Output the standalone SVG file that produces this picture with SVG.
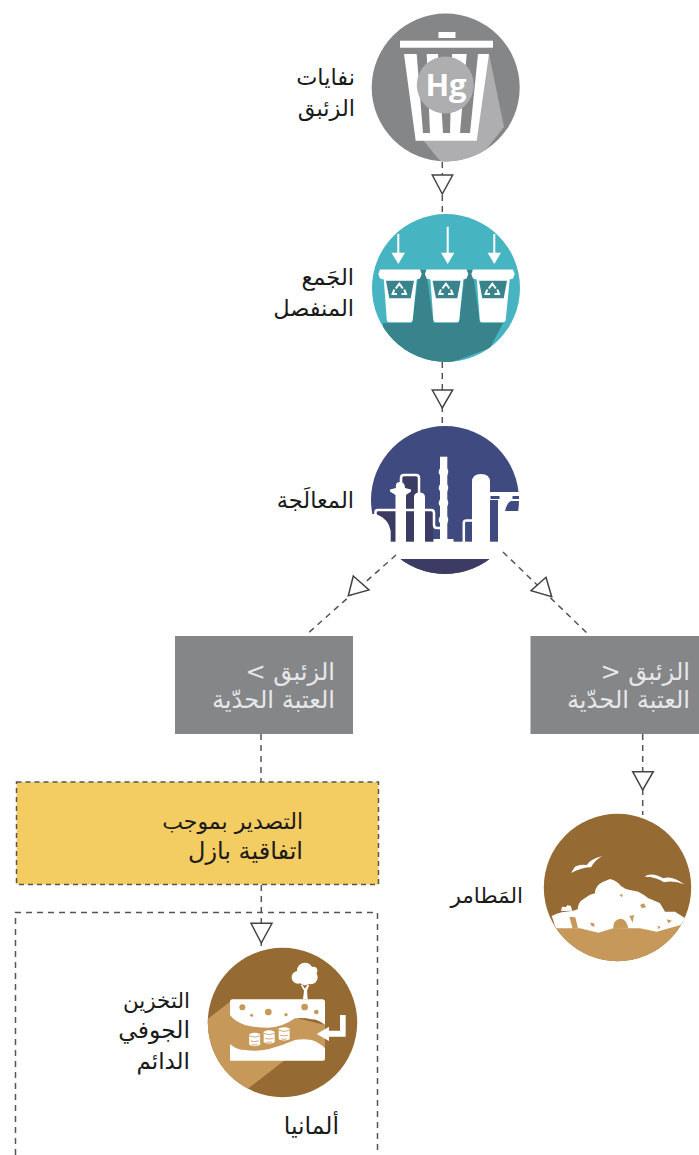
<svg xmlns="http://www.w3.org/2000/svg" xmlns:xlink="http://www.w3.org/1999/xlink" width="699" height="1155" viewBox="0 0 699 1155">
<style>
text{font-family:"DejaVu Sans","Noto Sans",sans-serif;font-size:22.500px;fill:#1a1a1a;direction:rtl;text-anchor:start}
.lt{fill:#e6e7e8;font-size:24.200px}
.dash{fill:none;stroke:#555;stroke-width:1.500;stroke-dasharray:6 5}
.tri{fill:#fff;stroke:#444;stroke-width:1.500}
.w{fill:#fff}
.ws{fill:none;stroke:#fff;stroke-width:2.500}
</style>
<defs>
<clipPath id="c1"><circle cx="445.700" cy="87.500" r="74"/></clipPath>
<clipPath id="c2"><circle cx="446" cy="288" r="74"/></clipPath>
<clipPath id="c3"><circle cx="445" cy="500" r="74"/></clipPath>
<clipPath id="c4"><circle cx="617.500" cy="887.500" r="73.700"/></clipPath>
<clipPath id="c5"><circle cx="282.500" cy="1022.500" r="74.700"/></clipPath>
<g id="bin">
<path class="w" d="M380 269.500H420L421.700 274L420 278.500L416.700 279.500L412.700 320Q412.500 322.300 410 322.300H389.500Q387 322.300 386.800 320L383.800 279.500L380 278.500L378.300 274Z"/>
<path fill="#38838c" d="M386 280.700H414L410.700 298.300H389.300Z"/>
<path fill="none" stroke="#fff" stroke-width="2" d="M395.800 288.500L399.300 283.700L402.800 288.500M404.300 289.500L406 294H401.500M397 294H392.600L394.300 289.500"/>
</g>
<g id="can">
<path class="w" d="M-16.500 -16Q0 -24 16.500 -16V16Q0 24 -16.500 16Z"/>
<path fill="none" stroke="#c69859" stroke-width="2.500" d="M-16.500 -11Q0 -3 16.500 -11M-12 4Q0 9 12 4M-8 15Q0 18 8 15"/>
</g>
</defs>

<g id="waste">
<circle cx="445.700" cy="87.500" r="74" fill="#858688"/>
<g clip-path="url(#c1)">
<polygon fill="#aeadaf" points="423,140 441,162 470,170 504,127 489,54"/>
</g>
<rect class="w" x="438.500" y="32" width="17" height="6"/>
<rect class="w" x="400" y="40.700" width="93" height="7"/>
<polygon class="w" points="404,54 489,54 476.700,140.700 415.700,140.700"/>
<g fill="#858688">
<polygon points="416.700,54 426.700,54 430,133 423,133"/>
<polygon points="438,54 452,54 450,133 443,133"/>
<polygon points="466.700,54 478,54 470,133 460,133"/>
</g>
<circle cx="445.300" cy="85" r="28.500" fill="#aeadaf"/>
<text x="446" y="96" style="font-family:'Open Sans','Liberation Sans',sans-serif;font-size:31px;font-weight:700;fill:#fff;direction:ltr;text-anchor:middle">Hg</text>
<text x="355" y="85">نفايات</text>
<text x="355" y="116">الزئبق</text>
</g>

<g id="collect">
<circle cx="446" cy="288" r="74" fill="#47b4c1"/>
<g clip-path="url(#c2)">
<path fill="#38838c" d="M383 323H503L490 348L450 363L380 370ZM419 270H426L433.500 323H412ZM465.600 270H472.600L480 323H458.600Z"/>
</g>
<use xlink:href="#bin"/>
<use xlink:href="#bin" x="46.600"/>
<use xlink:href="#bin" x="93"/>
<path class="w" d="M397.300 234H399.300V252.700H405L398.300 264L391.500 252.700H397.300ZM446.700 226.700H448.700V252.700H454.400L447.700 264L441 252.700H446.700ZM493.300 234H495.300V252.700H501L494.300 264L487.600 252.700H493.300Z"/>
<text x="354" y="285">الجَمع</text>
<text x="354" y="316">المنفصل</text>
</g>

<g id="treatment">
<circle cx="445" cy="500" r="74" fill="#3f4b80"/>
<g clip-path="url(#c3)">
<rect y="558" x="370" width="150" height="17" fill="#3b3b63"/>
<path fill="#3b3b63" d="M376 511H433V542H390V533Q389 520 376 515Z"/>
<rect x="403" y="476" width="16" height="40" fill="#3b3b63"/>
</g>
<rect x="365" y="541.700" width="160" height="17.300" class="w"/>
<path class="w" d="M365 514H376Q389 519 390.700 531V542H365Z"/>
<path class="ws" d="M401 495V478Q401 475 404 475H416Q419 475 419 478V495"/>
<path class="w" d="M395.500 542V495L390 491.500V489.500L396 488Q395 482 400 482Q405 482 405 488L411 489.500V491.500L406 495V542ZM414 542V497Q414 492.700 419.500 492.500Q425 492.700 425 497V542Z"/>
<path class="ws" d="M375.500 516V512Q375.500 510 378 510H431Q434 510 434 513V525Q434 528 437 528H445"/>
<g class="w"><rect x="440" y="456.700" width="7.300" height="84"/><circle cx="443.500" cy="472" r="4.800"/><circle cx="443.500" cy="488" r="4.800"/><circle cx="443.500" cy="503" r="4.800"/><circle cx="443.500" cy="520" r="4.800"/><rect x="433.500" y="539" width="20" height="3.500"/></g>
<path class="ws" d="M463.800 542V523Q463.800 520.500 466.500 520.500H473"/>
<path class="w" d="M472 542V482Q472 474 481 474Q490 474 490 482V542Z"/>
<rect x="490" y="492" width="33" height="8" class="w"/>
<rect x="490.500" y="496" width="9" height="3" fill="#3f4b80"/><rect x="512.500" y="496" width="6.500" height="3" fill="#3f4b80"/>
<path class="w" d="M498 500H523V542H498ZM505 511H523V506Q523 503 520 501H511Q507 503 505 511Z" fill-rule="evenodd"/>
<path fill="#3f4b80" d="M508 511V505Q509 502 512 502H517V511Z"/>
<text x="354" y="508">المعالَجة</text>
</g>

<g id="above">
<rect x="175" y="636" width="178" height="98" fill="#858688"/>
<text class="lt" x="335" y="680">الزئبق &gt;</text>
<text class="lt" x="335" y="708">العتبة الحدّية</text>
</g>

<g id="below">
<rect x="530.500" y="636" width="168.500" height="98" fill="#858688"/>
<text class="lt" x="690" y="680">الزئبق &lt;</text>
<text class="lt" x="690" y="708">العتبة الحدّية</text>
</g>

<g id="export">
<rect x="16.500" y="782" width="362" height="102.500" fill="#f4cd62" stroke="#555" stroke-width="1.500" stroke-dasharray="5 4"/>
<text x="303" y="829" style="font-size:22px">التصدير بموجب</text>
<text x="303" y="859" style="font-size:24px">اتفاقية بازل</text>
</g>

<g id="germany">
<path class="dash" d="M15.500 1155V912.500H377.500V1155"/>
<text x="339" y="1134" style="font-size:23.500px">ألمانيا</text>
</g>

<g id="landfill">
<circle cx="617.500" cy="887.500" r="73.700" fill="#956b33"/>
<g clip-path="url(#c4)">
<g transform="translate(440 630) scale(.33333)">
<path fill="#c69859" d="M330 880H760V1000H330Z"/>
<path class="w" d="M335 858Q350 850 365 847L400 842L413 838Q415 815 430 808Q450 792 465 790Q465 765 490 755L510 747Q530 752 543 768Q555 778 570 780L595 785Q615 795 625 805Q650 815 660 820L675 845H705L738 866L722 885L650 905L600 895L520 895L475 908L420 895H348Z"/>
<path class="w" d="M363 843L366 830L378 831L382 826L392 827L397 842Z"/>
<path fill="#c69859" d="M520 896Q518 870 540 866Q560 866 565 895Z"/>
<g fill="#c69859"><path d="M600 825L612 820L618 832L606 835ZM538 795L548 792L546 802ZM450 878L462 880L464 890L455 888ZM568 858L582 855L578 878ZM680 868L696 872L685 880ZM652 888L662 890L656 898ZM388 860L406 862L414 895L398 896Z"/></g>
<path class="w" d="M393 729L405 710Q420 702 440 705Q450 688 487 678Q465 690 453 712Q425 712 393 729ZM613 740Q635 725 670 745Q695 735 733 763Q700 750 672 757Q650 740 613 740Z"/>
</g>
</g>
<text x="523" y="903" style="font-size:21.500px">المَطامر</text>
</g>

<g id="storage">
<circle cx="282.500" cy="1022.500" r="74.700" fill="#956b33"/>
<g clip-path="url(#c5)">
<g transform="translate(100 900) scale(.33333)">
<path fill="#c69859" d="M310 367L390 305L675 375V445L552 482L445 565L380 600L300 500Z"/>
<path class="w" d="M398 298H667Q675 298 675 306V375Q655 358 635 358Q610 352 585 355Q545 383 505 383Q465 383 435 375Q405 365 390 345V306Q390 298 398 298Z"/>
<path class="w" d="M390 432Q410 450 435 450Q470 455 505 448Q550 435 585 420Q610 416 635 420Q660 428 675 445V476Q675 482 669 482H390Z"/>
<g fill="#c69859"><circle cx="427" cy="322" r="9"/><circle cx="455" cy="346" r="4.500"/><circle cx="505" cy="336" r="10"/><circle cx="558" cy="344" r="5"/><circle cx="614" cy="321" r="10"/><circle cx="649" cy="336" r="7"/></g>
<use xlink:href="#can" x="464" y="418.500"/>
<use xlink:href="#can" x="507.500" y="411"/>
<use xlink:href="#can" x="552.500" y="401.500"/>
<path class="w" d="M720 345H737V410H687V423L650 402L687 380V392H720Z"/>
<g class="w"><circle cx="615" cy="212" r="24"/><circle cx="594" cy="232" r="19"/><circle cx="632" cy="232" r="21"/><circle cx="615" cy="238" r="18"/><circle cx="640" cy="212" r="12"/><path d="M609 298L612 272L602 254H607L615 266L622 254H628L621 272L623 298Z"/></g>
</g>
</g>
<text x="190" y="1008" style="font-size:21.500px">التخزين</text>
<text x="190" y="1038" style="font-size:23.500px">الجوفي</text>
<text x="190" y="1069" style="font-size:23px">الدائم</text>
</g>

<g id="connectors">
<path class="dash" d="M442.300 162V214"/>
<path class="dash" d="M442.300 362V426"/>
<path class="dash" d="M396 555L306 635"/>
<path class="dash" d="M503 552L590 636"/>
<path class="dash" d="M261 734V782"/>
<path class="dash" d="M261.300 885V946"/>
<path class="dash" d="M642.700 734V815"/>
<polygon class="tri" points="432.300,175 452.700,175 442.300,194"/>
<polygon class="tri" points="432.300,390 452.700,390 442.300,408"/>
<polygon class="tri" points="353.300,576 369,590 348.300,595.700"/>
<polygon class="tri" points="546,577.300 551.700,596.700 531,590.700"/>
<polygon class="tri" points="251,923.300 272,923.300 261.300,943"/>
<polygon class="tri" points="632.700,771.700 653.300,771.700 642.700,790"/>
</g>
</svg>
